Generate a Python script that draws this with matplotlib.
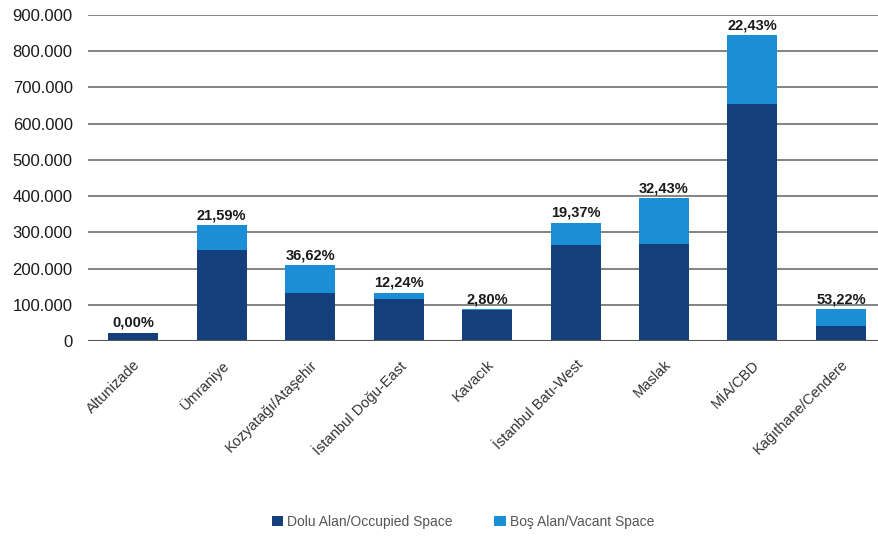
import matplotlib.pyplot as plt
import numpy as np
from matplotlib.ticker import FuncFormatter

# office stock by submarket (m2), vacancy rate per submarket
districts = ['Altunizade', 'Ümraniye', 'Kozyatağı/Ataşehir', 'İstanbul Doğu-East',
             'Kavacık', 'İstanbul Batı-West', 'Maslak', 'MİA/CBD', 'Kağıthane/Cendere']
total_stock = [23000, 320000, 210000, 133000, 88000, 327000, 395000, 845000, 88000]
vacancy_pct = [0.00, 21.59, 36.62, 12.24, 2.80, 19.37, 32.43, 22.43, 53.22]

total = np.array(total_stock, dtype=float)
vacant = total * np.array(vacancy_pct) / 100
occupied = total - vacant

dark = '#153f7a'
light = '#1b8fd5'

plt.rcParams['font.family'] = ['Liberation Sans', 'DejaVu Sans']

fig = plt.figure(figsize=(8.79, 5.38), dpi=100)
ax = fig.add_axes([88 / 879, 1 - 341 / 538, (879 - 88) / 879, (341 - 15) / 538])

x = np.arange(len(districts))
w = 0.565
ax.bar(x, occupied, w, color=dark, label='Dolu Alan/Occupied Space', zorder=3)
ax.bar(x, vacant, w, bottom=occupied, color=light, label='Boş Alan/Vacant Space', zorder=3)

for xi, t, p in zip(x, total, vacancy_pct):
    ax.text(xi, t + 8000, ('%.2f%%' % p).replace('.', ','), ha='center', va='bottom',
            fontsize=10.5, fontweight='bold', color='#1a1a1a', zorder=4)

ax.set_ylim(0, 900000)
ax.set_xlim(-0.51, 8.43)
ax.set_yticks(np.arange(0, 900001, 100000))
ax.yaxis.set_major_formatter(FuncFormatter(lambda v, pos: '{:,.0f}'.format(v).replace(',', '.')))
ax.grid(axis='y', color='#7a7a7a', linewidth=1.3, zorder=0)
ax.axhline(0, color='#555555', linewidth=1.5, zorder=4)
for s in ax.spines.values():
    s.set_visible(False)
ax.tick_params(axis='y', length=0, pad=11, labelsize=12, labelcolor='#1a1a1a')
ax.tick_params(axis='x', length=0, pad=12)
ax.set_xticks(x)
ax.set_xticklabels(districts, rotation=45, ha='right', rotation_mode='anchor',
                   fontsize=10.5, color='#333333')

fig.legend(loc='center', bbox_to_anchor=(463 / 879, 1 - 522 / 538), ncol=2, frameon=False,
           fontsize=10, handlelength=0.8, handleheight=0.8, handletextpad=0.3,
           columnspacing=3.0, labelcolor='#555555')

fig.savefig('out.png', dpi=100)
